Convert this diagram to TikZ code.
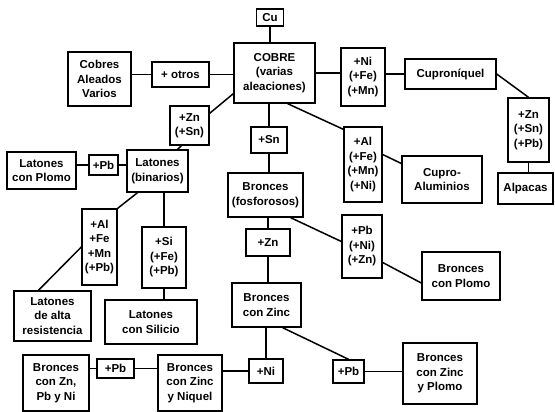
\documentclass[tikz,border=0pt]{standalone}
\usepackage{fontspec}
\setmainfont{Liberation Sans}
\usepackage{tikz}
\usetikzlibrary{positioning}
\tikzstyle{caja} = [rectangle, draw=black, line width=1.4pt, inner sep=1pt, align=center, font=\bfseries\fontsize{11.5}{14.5}\selectfont, fill=white]
\tikzstyle{link} = [line width=1.5pt]

\begin{document}
\begin{tikzpicture}[x=1pt, y=-1pt]
\useasboundingbox (0,0) rectangle (555,412);
\node (cu) [caja, minimum width=27pt, minimum height=17pt] at (270,17.5) {Cu};
\node (cobre) [caja, minimum width=81pt, minimum height=60pt] at (274.5,73) {COBRE\\(varias\\aleaciones)};
\node (otros) [caja, minimum width=57pt, minimum height=25pt] at (180.5,74.5) {+ otros};
\node (varios) [caja, minimum width=63pt, minimum height=54pt] at (99.5,79) {Cobres\\Aleados\\Varios};
\node (nifemn) [caja, minimum width=44pt, minimum height=58pt] at (363,77) {+Ni\\(+Fe)\\(+Mn)};
\node (cuproni) [caja, minimum width=91pt, minimum height=30pt] at (450.5,74) {Cuproníquel};
\node (znsnpb) [caja, minimum width=41pt, minimum height=64pt] at (528.5,130) {+Zn\\(+Sn)\\(+Pb)};
\node (alpacas) [caja, minimum width=55pt, minimum height=31pt] at (525.5,188.5) {Alpacas};
\node (znsn) [caja, minimum width=39pt, minimum height=39pt] at (189.5,125.5) {+Zn\\(+Sn)};
\node (sn) [caja, minimum width=36pt, minimum height=26pt] at (269,140) {+Sn};
\node (alfemnni) [caja, minimum width=38pt, minimum height=75pt] at (363,164.5) {+Al\\(+Fe)\\(+Mn)\\(+Ni)};
\node (cuproal) [caja, minimum width=80pt, minimum height=47pt] at (442,179.5) {Cupro-\\Aluminios};
\node (latbin) [caja, minimum width=61pt, minimum height=42pt] at (157.5,171) {Latones\\(binarios)};
\node (pba) [caja, minimum width=29pt, minimum height=20pt] at (103.5,165) {+Pb};
\node (latpb) [caja, minimum width=69pt, minimum height=37pt] at (41.5,170.5) {Latones\\con Plomo};
\node (alfemnpb) [caja, minimum width=35pt, minimum height=76pt] at (99.5,247) {+Al\\+Fe\\+Mn\\(+Pb)};
\node (latalta) [caja, minimum width=77pt, minimum height=50pt] at (52.5,316) {Latones\\de alta\\resistencia};
\node (sifepb) [caja, minimum width=44pt, minimum height=61pt] at (164,257.5) {+Si\\(+Fe)\\(+Pb)};
\node (latsi) [caja, minimum width=92pt, minimum height=44pt] at (151,322) {Latones\\con Silicio};
\node (bfosf) [caja, minimum width=75pt, minimum height=44pt] at (265.5,195) {Bronces\\(fosforosos)};
\node (znb) [caja, minimum width=44pt, minimum height=27pt] at (268,242.5) {+Zn};
\node (pbnizn) [caja, minimum width=40pt, minimum height=63pt] at (362,246.5) {+Pb\\(+Ni)\\(+Zn)};
\node (bpb) [caja, minimum width=78pt, minimum height=48pt] at (461,276) {Bronces\\con Plomo};
\node (bzn) [caja, minimum width=69pt, minimum height=44pt] at (266.5,305) {Bronces\\con Zinc};
\node (nib) [caja, minimum width=34pt, minimum height=24pt] at (266,371) {+Ni};
\node (pbc) [caja, minimum width=31pt, minimum height=23pt] at (348.5,371.5) {+Pb};
\node (bznpb) [caja, minimum width=74pt, minimum height=61pt] at (440,373.5) {Bronces\\con Zinc\\y Plomo};
\node (bznni) [caja, minimum width=64pt, minimum height=56pt] at (190,383) {Bronces\\con Zinc\\y Niquel};
\node (pbd) [caja, minimum width=37pt, minimum height=19pt] at (115.5,368.5) {+Pb};
\node (bznpbni) [caja, minimum width=66pt, minimum height=56pt] at (56,383) {Bronces\\con Zn,\\Pb y Ni};

% cobre y sus ramas
\draw [link] (cu.south) -- (cu.south |- cobre.north);
\draw [link] (otros.east) -- (otros.east -| cobre.west);
\draw [link] (otros.west) -- (otros.west -| varios.east);
\draw [link] (cobre.east) -- (cobre.east -| nifemn.west);
\draw [link] (nifemn.east |- cuproni.west) -- (cuproni.west);
\draw [link] (cuproni.east) -- (znsnpb.north);
\draw [link] (znsnpb.south) -- (znsnpb.south |- alpacas.north);
\draw [link] ([yshift=10pt]cobre.south west) -- ([yshift=-8pt]znsn.north east);
\draw [link] (sn.north) -- (sn.north |- cobre.south);
\draw [link] ([xshift=-28pt]cobre.south east) -- ([yshift=-3pt]alfemnni.north west);
\draw [link] ([yshift=10pt]alfemnni.east) -- ([yshift=16pt]cuproal.west);

% latones
\draw [link] ([xshift=-8pt]znsn.south) -- ([xshift=20pt]latbin.north);
\draw [link] (pba.east) -- (pba.east -| latbin.west);
\draw [link] (pba.west) -- (pba.west -| latpb.east);
\draw [link] ([xshift=-20pt]latbin.south) -- (alfemnpb.north east);
\draw [link] (alfemnpb.west) -- ([xshift=-14pt]latalta.north);
\draw [link] (sifepb.north) -- (sifepb.north |- latbin.south);
\draw [link] (sifepb.south) -- (sifepb.south |- latsi.north);

% bronces
\draw [link] (sn.south) -- (sn.south |- bfosf.north);
\draw [link] (znb.north) -- (znb.north |- bfosf.south);
\draw [link] ([xshift=-13pt]bfosf.south east) -- ([yshift=5pt]pbnizn.west);
\draw [link] ([yshift=-16pt]pbnizn.east) -- ([yshift=-7pt]bpb.west);
\draw [link] (znb.south) -- (znb.south |- bzn.north);
\draw [link] (nib.north) -- (nib.north |- bzn.south);
\draw [link] ([xshift=-19pt]bzn.south east) -- (pbc.north);
\draw [link] (pbc.east) -- (pbc.east -| bznpb.west);
\draw [link] (nib.west) -- (nib.west -| bznni.east);
\draw [link] (pbd.east) -- (pbd.east -| bznni.west);
\draw [link] (pbd.west) -- (pbd.west -| bznpbni.east);
\end{tikzpicture}
\end{document}
